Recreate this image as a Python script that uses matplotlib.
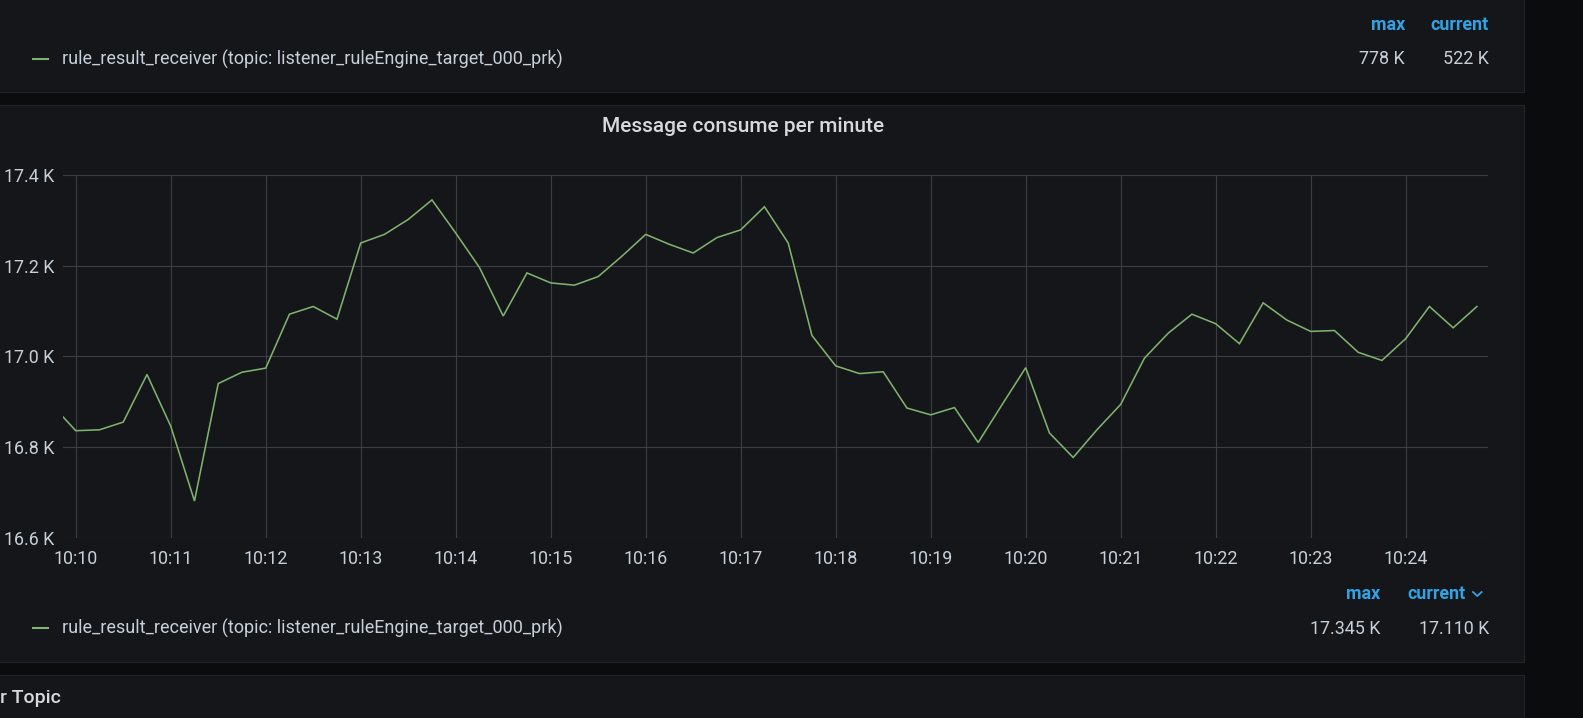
import numpy as np
import pandas as pd
import matplotlib
matplotlib.use("Agg")
import matplotlib.pyplot as plt
from matplotlib.patches import Rectangle
from matplotlib.lines import Line2D

# values, in thousands, one sample every 15 s
start_time = "2024-01-01 10:09:45"
consume_k = [
    16.893, 16.836, 16.838, 16.855, 16.960, 16.846, 16.681, 16.940, 16.965,
    16.974, 17.093, 17.110, 17.082, 17.250, 17.269, 17.302, 17.345, 17.272,
    17.196, 17.089, 17.184, 17.162, 17.157, 17.176, 17.221, 17.269, 17.247,
    17.228, 17.262, 17.279, 17.330, 17.250, 17.046, 16.979, 16.962, 16.966,
    16.886, 16.871, 16.887, 16.810, 16.893, 16.975, 16.831, 16.777, 16.838,
    16.894, 16.996, 17.051, 17.093, 17.072, 17.028, 17.118, 17.080, 17.055,
    17.057, 17.009, 16.991, 17.039, 17.110, 17.063, 17.110,
]
y_ticks = [16.6, 16.8, 17.0, 17.2, 17.4]
x_tick_labels = ["10:10", "10:11", "10:12", "10:13", "10:14", "10:15", "10:16",
                 "10:17", "10:18", "10:19", "10:20", "10:21", "10:22", "10:23",
                 "10:24"]
x_range = ["2024-01-01 10:09:51.7", "2024-01-01 10:24:52"]

series_name = "rule_result_receiver (topic: listener_ruleEngine_target_000_prk)"
top_stats = ["778 K", "522 K"]
mid_stats = ["17.345 K", "17.110 K"]
stat_headers = ["max", "current"]
title = "Message consume per minute"
next_title = "r Topic"

PAGE = "#0b0c0e"
PANEL = "#141619"
BORDER = "#222428"
GRID = "#3c3e42"
TEXT = "#c7d0d9"
TITLE_C = "#d8d9da"
BLUE = "#33a2e5"
GREEN = "#7eb26d"

W, H = 1583, 718
plt.rcParams["font.family"] = ["Roboto", "DejaVu Sans"]

fig = plt.figure(figsize=(W / 100, H / 100), dpi=100, facecolor=PAGE)

def fx(x):
    return x / W

def fy(y):
    return 1 - y / H

# panels (kept behind the chart axes)
for top, bot in [(-10, 92), (105, 662), (675, 740)]:
    fig.add_artist(Rectangle((fx(-10), fy(bot)), fx(1524 + 10), fy(top) - fy(bot),
                             transform=fig.transFigure, facecolor=PANEL,
                             edgecolor=BORDER, linewidth=0.8, zorder=-5))

# chart
ax = fig.add_axes([fx(62.6), fy(537.7), fx(1488) - fx(62.6), fy(175) - fy(537.7)])
ax.set_facecolor("none")
times = pd.date_range(start_time, periods=len(consume_k), freq="15s")
ax.plot(times, consume_k, color=GREEN, linewidth=1.15, solid_joinstyle="miter")

ax.set_xlim(pd.Timestamp(x_range[0]), pd.Timestamp(x_range[1]))
ax.set_ylim(y_ticks[0], y_ticks[-1])
ax.set_yticks(y_ticks)
ax.set_yticklabels([f"{v:.1f} K" for v in y_ticks])
tick_times = [pd.Timestamp("2024-01-01 " + t) for t in x_tick_labels]
ax.set_xticks(tick_times)
ax.set_xticklabels(x_tick_labels)
ax.grid(True, color=GRID, linewidth=0.8)
ax.set_axisbelow(True)
for s in ax.spines.values():
    s.set_visible(False)
ax.tick_params(axis="both", length=0, colors=TEXT, labelsize=12.9)
ax.tick_params(axis="y", pad=6)
ax.tick_params(axis="x", pad=9)

# title
fig.text(fx(743), fy(127), title, color=TITLE_C, fontsize=15,
         fontweight="medium", ha="center", va="center")

# top legend
fig.add_artist(Line2D([fx(33), fx(48)], [fy(59), fy(59)], color=GREEN,
                      linewidth=1.5, transform=fig.transFigure))
fig.text(fx(62.5), fy(59), series_name, color=TEXT, fontsize=12.95, va="center")
fig.text(fx(1405), fy(25), stat_headers[0], color=BLUE, fontsize=12.9,
         fontweight="bold", ha="right", va="center")
fig.text(fx(1488.7), fy(25), stat_headers[1], color=BLUE, fontsize=12.9,
         fontweight="bold", ha="right", va="center")
fig.text(fx(1405), fy(59), top_stats[0], color=TEXT, fontsize=12.9,
         ha="right", va="center")
fig.text(fx(1488.7), fy(59), top_stats[1], color=TEXT, fontsize=12.9,
         ha="right", va="center")

# chart legend
fig.add_artist(Line2D([fx(33), fx(48)], [fy(628), fy(628)], color=GREEN,
                      linewidth=1.5, transform=fig.transFigure))
fig.text(fx(62.5), fy(628), series_name, color=TEXT, fontsize=12.95, va="center")
fig.text(fx(1380.7), fy(594), stat_headers[0], color=BLUE, fontsize=12.9,
         fontweight="bold", ha="right", va="center")
fig.text(fx(1465.5), fy(594), stat_headers[1], color=BLUE, fontsize=12.9,
         fontweight="bold", ha="right", va="center")
fig.add_artist(Line2D([fx(1473), fx(1477.3), fx(1481.6)],
                      [fy(592), fy(596), fy(592)], color=BLUE, linewidth=1.3,
                      transform=fig.transFigure))
fig.text(fx(1380.7), fy(628.5), mid_stats[0], color=TEXT, fontsize=12.9,
         ha="right", va="center")
fig.text(fx(1489), fy(628.5), mid_stats[1], color=TEXT, fontsize=12.9,
         ha="right", va="center")

# next panel title, cut at the left edge
fig.text(fx(0), fy(698), next_title, color=TITLE_C, fontsize=14,
         fontweight="medium", ha="left", va="center")

fig.savefig("out.png", dpi=100, facecolor=PAGE)
